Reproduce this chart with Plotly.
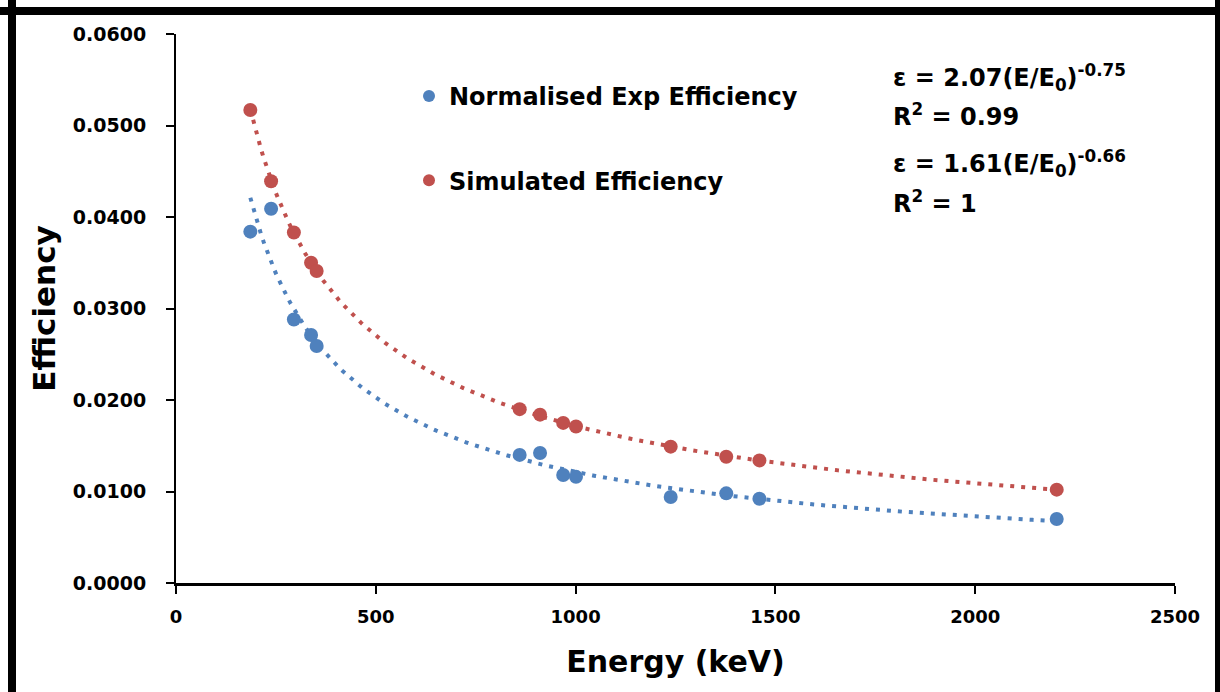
import numpy as np
import plotly.graph_objects as go

# Gamma-line energies (keV)
energy = [186, 238, 295, 338, 352, 860, 911, 969, 1001, 1238, 1377, 1460, 2204]

# Normalised experimental efficiency
exp_eff = [0.0384, 0.0409, 0.0288, 0.0271, 0.0259, 0.0140, 0.0142,
           0.0118, 0.0116, 0.0094, 0.0098, 0.0092, 0.0070]

# Simulated efficiency
sim_eff = [0.0517, 0.0439, 0.0383, 0.0350, 0.0341, 0.0190, 0.0184,
           0.0175, 0.0171, 0.0149, 0.0138, 0.0134, 0.0102]

x_ticks = [0, 500, 1000, 1500, 2000, 2500]
y_ticks = [0.0, 0.01, 0.02, 0.03, 0.04, 0.05, 0.06]

BLUE = "#4F81BD"
RED = "#C0504D"
FONT = "'DejaVu Sans', sans-serif"


def power_fit(x, y):
    """Least-squares power-law trendline y = a * x^b on log-log axes."""
    lx, ly = np.log(np.asarray(x, float)), np.log(np.asarray(y, float))
    b, ln_a = np.polyfit(lx, ly, 1)
    xs = np.linspace(min(x), max(x), 300)
    return xs, np.exp(ln_a) * xs ** b


fig = go.Figure()

for series, color in ((exp_eff, BLUE), (sim_eff, RED)):
    xs, ys = power_fit(energy, series)
    fig.add_trace(go.Scatter(
        x=xs, y=ys, mode="lines", showlegend=False, hoverinfo="skip",
        line=dict(color=color, width=4, dash="4px,7px"),
    ))

fig.add_trace(go.Scatter(
    x=energy, y=exp_eff, mode="markers", name="Normalised Exp Efficiency",
    legendgroup="exp", marker=dict(color=BLUE, size=14),
))
fig.add_trace(go.Scatter(
    x=energy, y=sim_eff, mode="markers", name="Simulated Efficiency",
    legendgroup="sim", marker=dict(color=RED, size=14),
))


# pixel positions converted to paper units
def px_x(p):
    return (p - 176) / 999


def px_y(p):
    return 1 - (p - 34) / 549


eq_font = dict(family=FONT, size=24, color="black")
equations = [
    ("<b>ε = 2.07(E/E<sub>0</sub>)<sup>-0.75</sup></b>", 77),
    ("<b>R<sup>2</sup> = 0.99</b>", 115),
    ("<b>ε = 1.61(E/E<sub>0</sub>)<sup>-0.66</sup></b>", 163),
    ("<b>R<sup>2</sup> = 1</b>", 202),
]
annotations = []
for text, ypx in equations:
    annotations.append(dict(
        text=text, xref="paper", yref="paper",
        x=px_x(891), y=px_y(ypx),
        xanchor="left", yanchor="middle", showarrow=False, font=eq_font,
    ))

# outer frame around the chart
frame = [
    dict(x0=px_x(12), x1=px_x(12), y0=px_y(0), y1=px_y(692)),
    dict(x0=px_x(0), x1=px_x(1220), y0=px_y(11), y1=px_y(11)),
    dict(x0=px_x(1219), x1=px_x(1219), y0=px_y(0), y1=px_y(692)),
]
for f in frame:
    f.update(type="line", xref="paper", yref="paper",
             line=dict(color="black", width=8))

fig.update_layout(
    width=1220, height=692,
    margin=dict(l=176, r=45, t=34, b=109),
    paper_bgcolor="white", plot_bgcolor="white",
    font=dict(family=FONT, color="black"),
    showlegend=True,
    legend=dict(
        x=px_x(409), y=px_y(74), xanchor="left", yanchor="top",
        bgcolor="rgba(0,0,0,0)", traceorder="grouped", tracegroupgap=50,
        itemsizing="constant",
        font=dict(family=FONT, size=24, color="black", weight="bold"),
    ),
    xaxis=dict(
        range=[0, 2500], tickvals=x_ticks, ticktext=[str(v) for v in x_ticks],
        showline=True, linecolor="black", linewidth=3,
        ticks="outside", ticklen=8, tickwidth=2, tickcolor="black",
        ticklabelstandoff=7,
        showgrid=False, zeroline=False,
        tickfont=dict(family=FONT, size=18, color="black", weight="bold"),
        title=dict(text="<b>Energy (keV)</b>", standoff=26,
                   font=dict(family=FONT, size=30, color="black")),
    ),
    yaxis=dict(
        range=[0, 0.06], tickvals=y_ticks, ticktext=[f"{v:.4f}" for v in y_ticks],
        showline=True, linecolor="black", linewidth=2,
        ticks="outside", ticklen=8, tickwidth=2, tickcolor="black",
        ticklabelstandoff=16,
        showgrid=False, zeroline=False,
        tickfont=dict(family=FONT, size=19, color="black", weight="bold"),
        title=dict(text="<b>Efficiency</b>", standoff=8,
                   font=dict(family=FONT, size=31, color="black")),
    ),
    annotations=annotations,
    shapes=frame,
)

fig.write_html("out.html")
